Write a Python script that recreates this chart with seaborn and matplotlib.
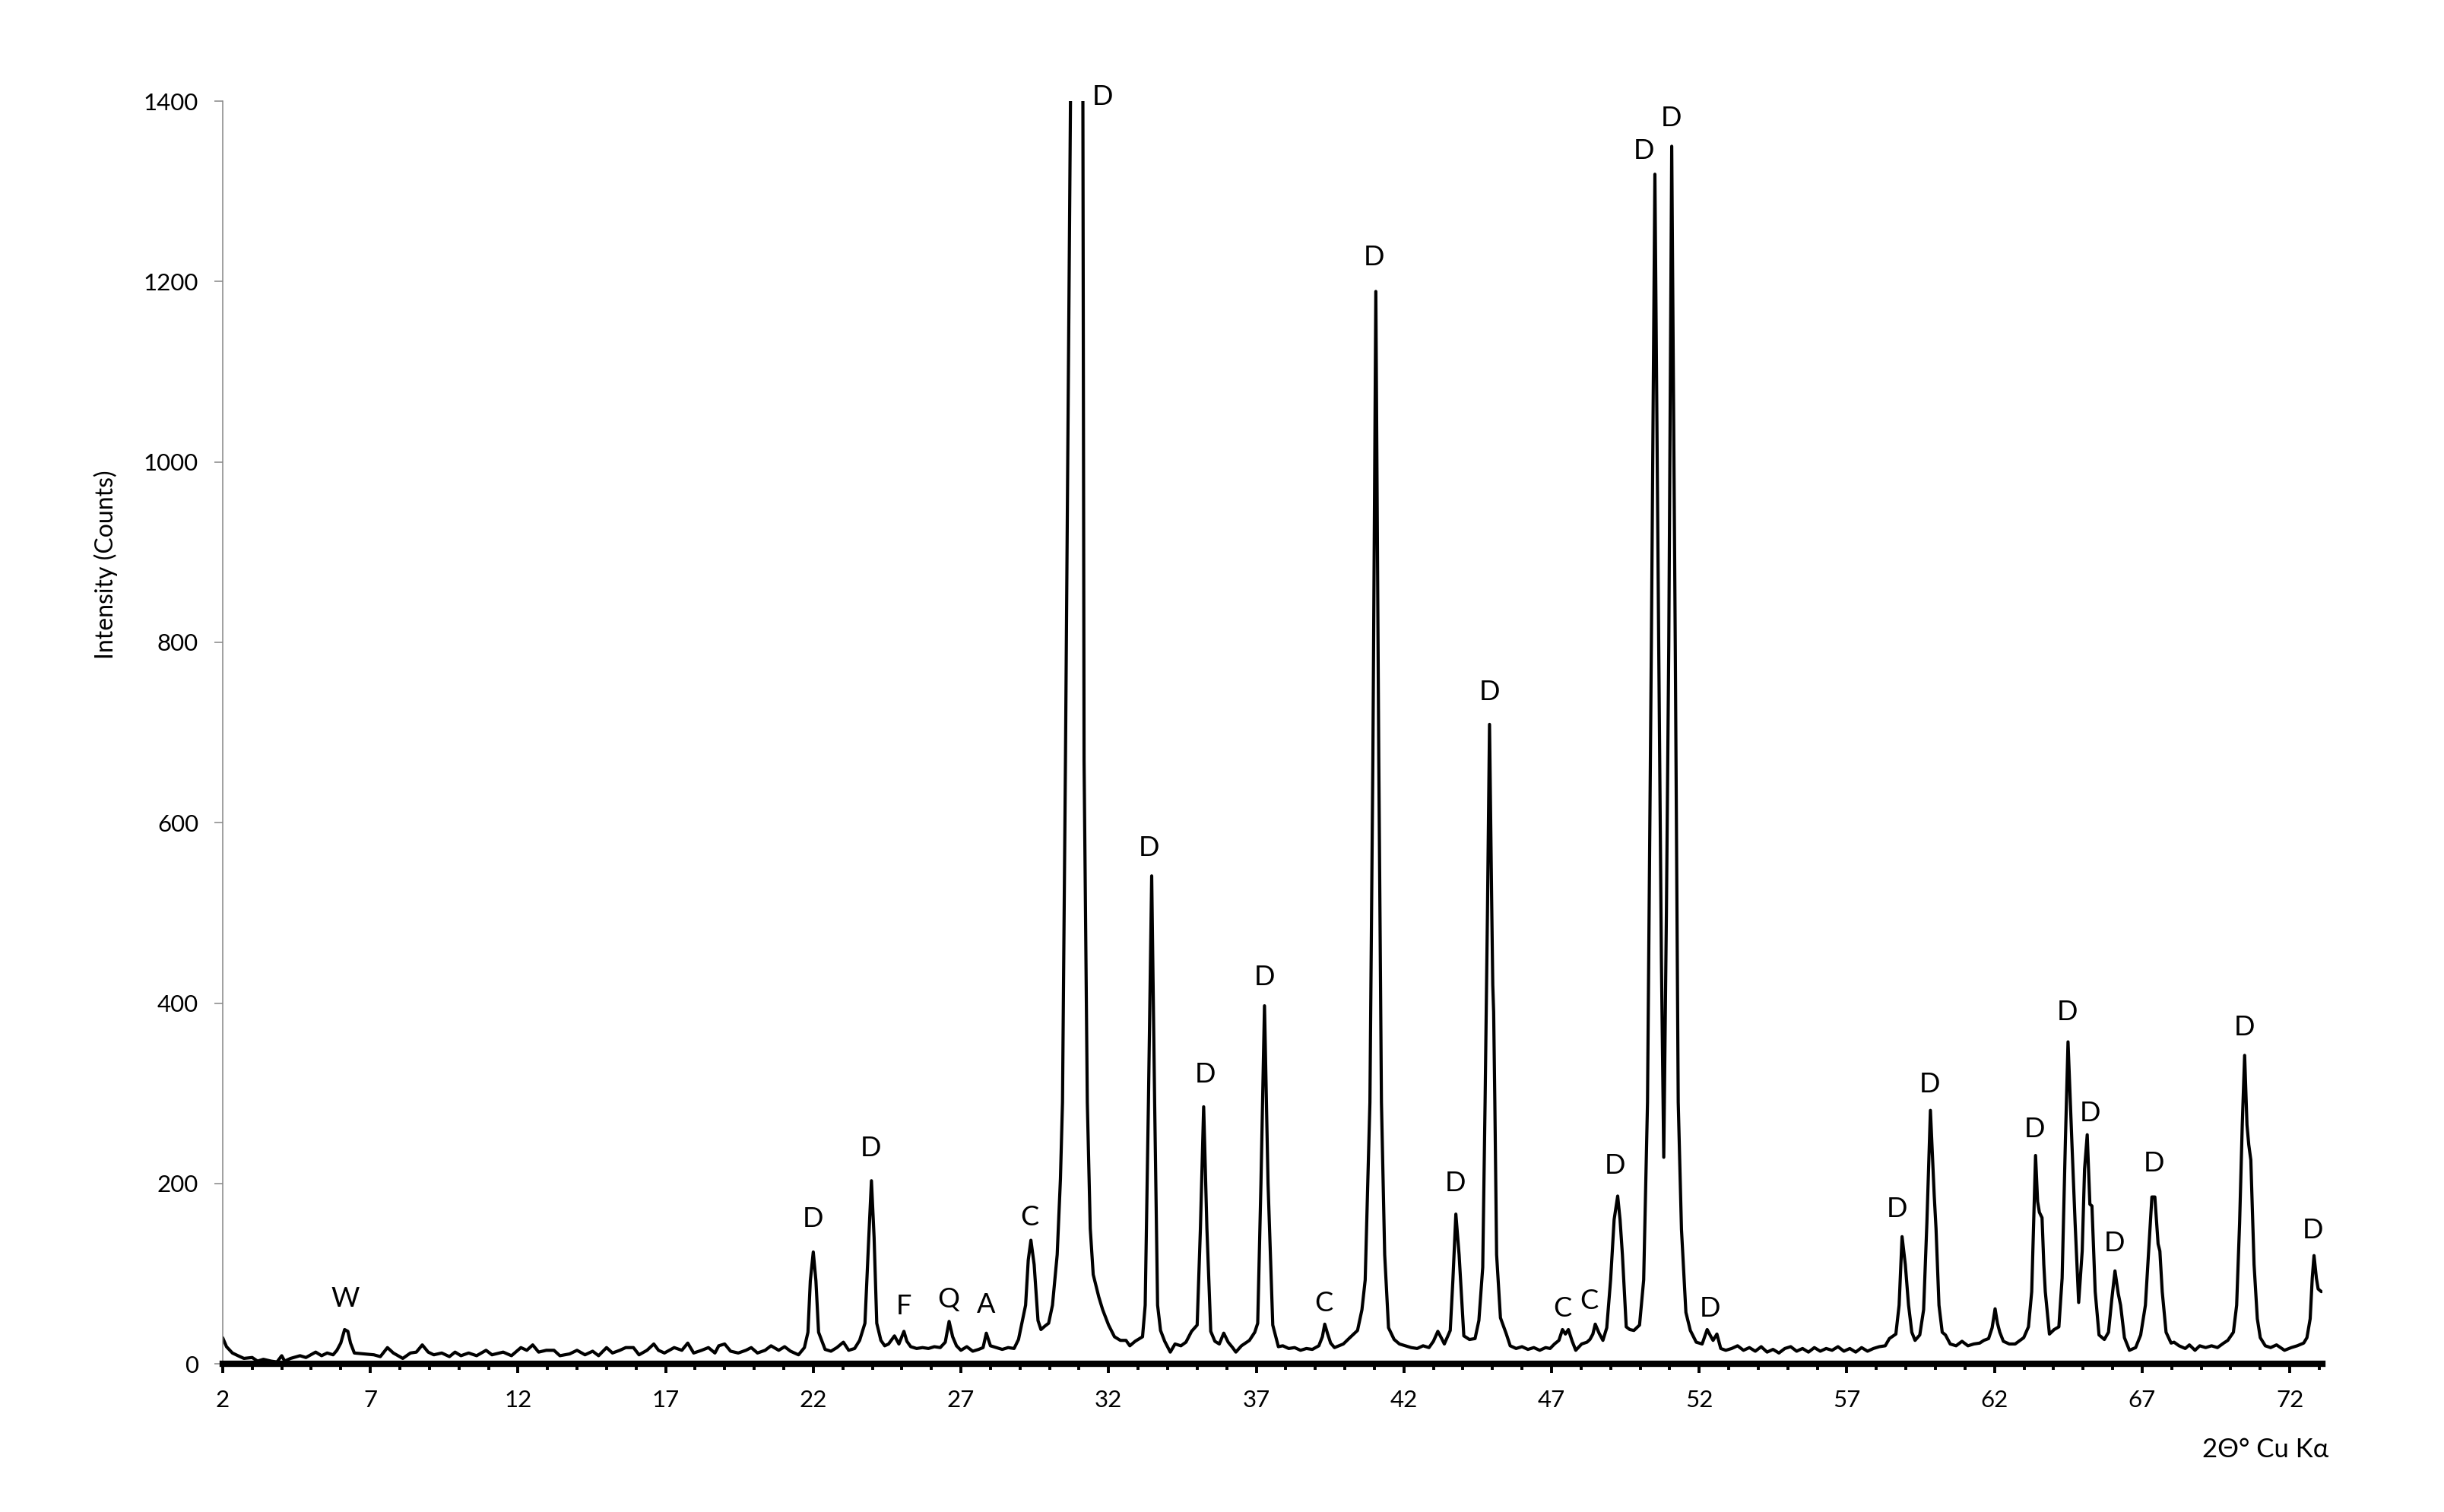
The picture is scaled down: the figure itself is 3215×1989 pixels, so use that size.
import matplotlib
matplotlib.use("Agg")
import matplotlib.pyplot as plt
import seaborn as sns
import pandas as pd
from matplotlib.ticker import FixedLocator

sns.set_style("ticks")
plt.rcParams["font.family"] = ["Lato", "Open Sans", "DejaVu Sans"]

# ---------------- data ----------------
two_theta = [
    2.00, 2.13, 2.33, 2.52, 2.72, 3.00, 3.18, 3.38, 3.64, 3.84,
    4.00, 4.10, 4.30, 4.62, 4.82, 5.15, 5.35, 5.54, 5.74, 5.87,
    6.00, 6.13, 6.24, 6.33, 6.46, 6.79, 7.12, 7.34, 7.58, 7.78,
    8.10, 8.36, 8.56, 8.76, 8.96, 9.15, 9.42, 9.68, 9.87, 10.07,
    10.33, 10.60, 10.92, 11.12, 11.50, 11.78, 12.10, 12.30, 12.50, 12.70,
    12.96, 13.22, 13.42, 13.75, 14.00, 14.27, 14.53, 14.73, 15.00, 15.20,
    15.45, 15.65, 15.91, 16.10, 16.37, 16.60, 16.76, 16.96, 17.29, 17.55,
    17.75, 17.95, 18.22, 18.45, 18.67, 18.80, 19.00, 19.20, 19.46, 19.72,
    19.90, 20.11, 20.37, 20.57, 20.83, 21.03, 21.23, 21.50, 21.70, 21.82,
    21.90, 22.00, 22.09, 22.18, 22.40,
    22.60, 22.80, 23.02, 23.20, 23.40, 23.57, 23.75, 23.88, 23.97, 24.06,
    24.15, 24.29, 24.42, 24.55, 24.75, 24.90, 25.07, 25.17, 25.30, 25.50,
    25.70, 25.90, 26.10, 26.30, 26.47, 26.60, 26.72, 26.85, 27.00, 27.20,
    27.40, 27.60, 27.75, 27.86, 28.00, 28.20, 28.40, 28.60, 28.80, 28.95,
    29.19, 29.28, 29.37, 29.48, 29.61, 29.71, 29.85, 29.97, 30.10, 30.26,
    30.37, 30.44, 30.54, 30.71, 30.92, 31.13, 31.17, 31.28, 31.38, 31.48,
    31.67, 31.80, 32.00, 32.20, 32.40, 32.59, 32.72, 32.90, 33.05, 33.15,
    33.24, 33.35, 33.46, 33.56, 33.66, 33.76, 33.90, 34.09, 34.25, 34.45,
    34.62, 34.81, 35.00, 35.11, 35.22, 35.33, 35.46, 35.60, 35.75, 35.90,
    36.05, 36.20, 36.31, 36.50, 36.77, 36.95, 37.05, 37.16, 37.28, 37.40,
    37.56, 37.75, 37.90, 38.10, 38.30, 38.50, 38.70, 38.90, 39.12, 39.24,
    39.32, 39.42, 39.52, 39.65, 39.80, 39.95, 40.17, 40.43, 40.58, 40.69,
    40.85, 40.95, 41.05, 41.15, 41.24, 41.35, 41.48, 41.67,
    41.85, 42.05, 42.25, 42.45, 42.65, 42.85, 43.00, 43.15, 43.28, 43.37,
    43.57, 43.66, 43.76, 43.87, 44.03, 44.22, 44.41, 44.54, 44.67, 44.75,
    44.83, 44.90, 44.97, 45.01, 45.04, 45.08, 45.14, 45.27, 45.47, 45.60,
    45.80, 46.00, 46.20, 46.40, 46.60, 46.80, 46.95, 47.10, 47.25, 47.37,
    47.47, 47.57, 47.70, 47.82, 48.02, 48.20, 48.30, 48.40, 48.48, 48.61,
    48.74, 48.87, 49.00, 49.12, 49.24, 49.32, 49.40, 49.53, 49.65, 49.79,
    49.98, 50.12, 50.25, 50.38, 50.50, 50.63, 50.72, 50.80, 50.89, 50.97,
    51.07, 51.19, 51.29, 51.40, 51.55, 51.70, 51.90, 52.10, 52.27, 52.40,
    52.47, 52.60, 52.73, 52.90,
    53.10, 53.30, 53.50, 53.70, 53.90, 54.10, 54.30, 54.50, 54.70, 54.90,
    55.10, 55.30, 55.50, 55.70, 55.90, 56.10, 56.30, 56.50, 56.70, 56.90,
    57.10, 57.30, 57.50, 57.70, 57.90, 58.10, 58.30, 58.44, 58.66, 58.77,
    58.87, 58.98, 59.09, 59.20, 59.31, 59.47, 59.60, 59.71, 59.83, 59.96,
    60.02, 60.12, 60.23, 60.34, 60.50, 60.70, 60.90, 61.10, 61.30, 61.50,
    61.64, 61.80, 61.92, 62.02, 62.10, 62.18, 62.30, 62.50, 62.70, 62.99,
    63.15, 63.26, 63.33, 63.39, 63.46, 63.52, 63.61, 63.67, 63.72, 63.86,
    64.02, 64.18, 64.29, 64.40, 64.49, 64.62, 64.73, 64.85, 64.97, 65.05,
    65.14, 65.23, 65.30, 65.41, 65.54, 65.72, 65.86, 65.97, 66.08, 66.19,
    66.27, 66.40, 66.57, 66.78, 66.95, 67.11, 67.22, 67.33, 67.43, 67.54,
    67.60, 67.68, 67.81, 67.98, 68.08, 68.25, 68.46, 68.60, 68.79, 68.95,
    69.15, 69.35, 69.55, 69.76, 69.90, 70.09, 70.20, 70.30, 70.39, 70.47,
    70.55, 70.61, 70.68, 70.79, 70.90, 71.00, 71.17, 71.35, 71.55, 71.82,
    72.05, 72.25, 72.47, 72.58, 72.69, 72.76, 72.82, 72.90, 72.96, 73.07,
]

intensity = [
    29, 19, 12, 9, 6, 7, 3, 5, 3, 2,
    9, 3, 6, 9, 7, 13, 9, 12, 10, 15,
    23, 38, 36, 23, 12, 11, 10, 8, 18, 12,
    6, 12, 13, 21, 13, 10, 12, 8, 13, 9,
    12, 9, 15, 10, 13, 9, 18, 15, 21, 13,
    15, 15, 9, 11, 15, 10, 14, 9, 18, 12,
    15, 18, 18, 10, 15, 22, 15, 12, 18, 15,
    23, 12, 15, 18, 12, 20, 22, 14, 12, 15,
    18, 12, 15, 20, 15, 19, 14, 10, 18, 35,
    92, 124, 92, 35, 16,
    14, 18, 24, 15, 17, 26, 45, 140, 203, 140,
    45, 26, 20, 22, 31, 22, 36, 25, 19, 17,
    18, 17, 19, 18, 24, 47, 30, 20, 15, 19,
    14, 16, 18, 34, 20, 18, 16, 18, 17, 27,
    65, 115, 137, 110, 48, 38, 42, 45, 65, 121,
    205, 290, 669, 1400, 2600, 1400, 669, 290, 150, 99,
    74, 60, 43, 30, 26, 26, 20, 25, 28, 30,
    65, 290, 541, 290, 65, 37, 25, 13, 22, 20,
    24, 36, 43, 150, 285, 150, 36, 25, 22, 34,
    24, 18, 13, 20, 26, 35, 45, 200, 397, 200,
    43, 19, 20, 17, 18, 15, 17, 16, 20, 30,
    44, 33, 23, 18, 20, 22, 29, 37, 60, 93,
    290, 670, 1189, 670, 290, 121, 40, 27,
    22, 20, 18, 17, 20, 18, 25, 36, 28, 22,
    37, 93, 166, 121, 31, 27, 28, 48, 107, 290,
    500, 709, 520, 420, 390, 290, 121, 51, 33, 20,
    17, 19, 16, 18, 15, 18, 17, 22, 26, 38,
    33, 38, 25, 15, 22, 24, 27, 33, 44, 34,
    26, 40, 93, 160, 186, 160, 121, 41, 38, 37,
    43, 93, 290, 796, 1319, 796, 450, 229, 500, 796,
    1350, 796, 290, 149, 57, 37, 24, 22, 38, 30,
    26, 33, 17, 15,
    17, 20, 15, 18, 14, 19, 13, 16, 12, 17,
    19, 14, 17, 13, 18, 14, 17, 15, 19, 14,
    17, 13, 18, 14, 17, 19, 20, 28, 33, 65,
    141, 110, 65, 35, 26, 32, 60, 156, 281, 186,
    150, 65, 35, 32, 22, 20, 25, 20, 22, 23,
    26, 28, 40, 61, 45, 35, 25, 22, 22, 29,
    41, 80, 160, 231, 180, 168, 162, 110, 80, 33,
    38, 41, 95, 246, 357, 246, 156, 68, 125, 216,
    254, 177, 175, 80, 32, 27, 35, 71, 103, 78,
    65, 29, 15, 18, 32, 65, 125, 185, 185, 133,
    125, 80, 35, 23, 24, 20, 17, 21, 15, 20,
    18, 20, 18, 23, 26, 35, 65, 156, 265, 342,
    265, 243, 226, 110, 50, 29, 20, 18, 21, 15,
    18, 20, 23, 29, 50, 95, 120, 95, 83, 80,
]

peak_labels = ["W", "D", "D", "F", "Q", "A", "C", "D", "D", "D",
               "D", "C", "D", "D", "D", "C", "C", "D", "D", "D",
               "D", "D", "D", "D", "D", "D", "D", "D", "D", "D"]
label_x = [6.16, 22.00, 23.95, 25.07, 26.57, 27.86, 29.32, 31.80, 33.37, 35.28,
           37.28, 39.30, 41.00, 43.74, 44.90, 47.37, 48.28, 49.16, 50.14, 51.06,
           52.37, 58.70, 59.80, 63.37, 64.46, 65.25, 66.05, 67.40, 70.47, 72.78]
label_y = [72, 161, 239, 64, 71, 65, 162, 1405, 572, 321,
           429, 67, 1227, 200, 745, 61, 70, 220, 1345, 1381,
           61, 172, 310, 260, 390, 278, 134, 222, 373, 148]

x_major_ticks = list(range(2, 73, 5))
x_minor_ticks = [v for v in range(2, 74) if v not in x_major_ticks]
y_ticks = list(range(0, 1401, 200))

assert len(two_theta) == len(intensity)
assert len(peak_labels) == len(label_x) == len(label_y)

df = pd.DataFrame({"two_theta": two_theta, "counts": intensity})

# ---------------- figure ----------------
fig = plt.figure(figsize=(32.15, 19.89), dpi=100)
ax = fig.add_axes([0.0911, 0.0980, 0.8591, 0.8351])

sns.lineplot(data=df, x="two_theta", y="counts", ax=ax, color="black",
             linewidth=3.0, estimator=None, sort=False)
for ln in ax.lines:
    ln.set_solid_joinstyle("round")

ax.set_xlim(2, 73.1)
ax.set_ylim(0, 1400)
ax.set_xlabel("")
ax.set_ylabel("")

ax.xaxis.set_major_locator(FixedLocator(x_major_ticks))
ax.xaxis.set_minor_locator(FixedLocator(x_minor_ticks))
ax.yaxis.set_major_locator(FixedLocator(y_ticks))

for s in ("top", "right"):
    ax.spines[s].set_visible(False)
ax.spines["left"].set_color("#868686")
ax.spines["left"].set_linewidth(1.1)
ax.spines["bottom"].set_color("black")
ax.spines["bottom"].set_linewidth(6)

ax.tick_params(axis="x", which="major", bottom=True, length=8.5, width=2.8,
               direction="out", color="black", pad=16, labelsize=22.5,
               labelcolor="black")
ax.tick_params(axis="x", which="minor", bottom=True, length=6, width=2.8,
               direction="out", color="black")
ax.tick_params(axis="y", which="major", left=True, length=7.9, width=1.1,
               direction="out", color="#868686", pad=15, labelsize=22.5,
               labelcolor="black")

for t, x, y in zip(peak_labels, label_x, label_y):
    ax.text(x, y, t, ha="center", va="center", fontsize=26, color="black",
            clip_on=False, zorder=5)

fig.text(139 / 3215, 1 - 743 / 1989, "Intensity (Counts)", rotation=90,
         ha="center", va="center", fontsize=23, color="black")
fig.text(3063 / 3215, 1 - 1907 / 1989, "2\u0398\u00b0 Cu K\u03b1",
         ha="right", va="center", fontsize=25, color="black")

fig.savefig("out.png", dpi=100, facecolor="white")
